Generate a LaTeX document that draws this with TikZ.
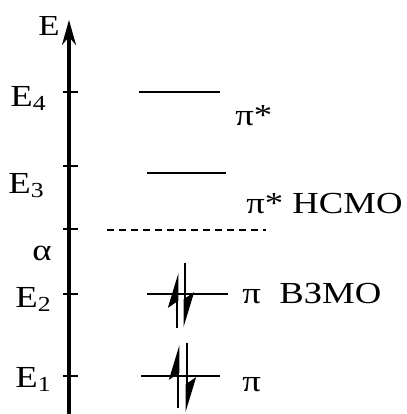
\documentclass[tikz,border=0pt]{standalone}
\usepackage{fontspec}
\setmainfont[FakeStretch=1.2]{Liberation Serif}
\usetikzlibrary{arrows.meta}

\begin{document}
\begin{tikzpicture}[x=0.5pt, y=-0.5pt,
  level/.style={line width=1pt},
  tickmark/.style={line width=0.6pt},
  axis/.style={line width=1.8pt, -{Stealth[length=12.5pt, width=7pt]}},
  electron/.style={line width=1.4pt, -{Stealth[left, length=15pt, width=9pt, inset=3pt]}},
  every node/.style={font=\fontsize{15.3}{18}\selectfont, inner sep=0pt, anchor=base west}]
\useasboundingbox (0,0) rectangle (407,414);

% energy axis
\coordinate (bottom) at (69,414);
\coordinate (top) at (69,20);
\draw[axis] (bottom) -- (top);
\node[font=\fontsize{14.5}{16}\selectfont] (elab) at (38,35) {E};

% ticks
\foreach \y/\n in {92/4, 166/3, 229/a, 294/2, 376/1}
  \draw[tickmark] (63,\y) -- (78,\y);

\node (e4) at (10,106) {E\textsubscript{4}};
\node (e3) at (8,193) {E\textsubscript{3}};
\node (alpha) at (32,260) {α};
\node (e2) at (15,307) {E\textsubscript{2}};
\node (e1) at (15,387) {E\textsubscript{1}};

% levels
\coordinate (l4a) at (139,92);  \coordinate (l4b) at (220,92);
\coordinate (l3a) at (147,173); \coordinate (l3b) at (226,173);
\coordinate (l2a) at (147,294); \coordinate (l2b) at (228,294);
\coordinate (l1a) at (141,376); \coordinate (l1b) at (220,376);
\coordinate (da) at (107,230);  \coordinate (db) at (266,230);
\draw[level] (l4a) -- (l4b);
\draw[level] (l3a) -- (l3b);
\draw[level] (l2a) -- (l2b);
\draw[level] (l1a) -- (l1b);
\draw[level, dash pattern=on 3.5pt off 2.5pt] (da) -- (db);

\node (pi4) at (235,125) {π*};
\node (pi3) at (246,213) {π* НСМО};
\node (pi2) at (242,303) {π\hspace{0.6em}ВЗМО};
\node (pi1) at (242,391) {π};

% electrons
\coordinate (u2a) at (177,328); \coordinate (u2b) at (177,273);
\coordinate (d2a) at (185,263); \coordinate (d2b) at (185,327);
\coordinate (u1a) at (178,408); \coordinate (u1b) at (178,345);
\coordinate (d1a) at (187,343); \coordinate (d1b) at (187,412);
\draw[electron] (u2a) -- (u2b);
\draw[electron] (d2a) -- (d2b);
\draw[electron] (u1a) -- (u1b);
\draw[electron] (d1a) -- (d1b);
\end{tikzpicture}
\end{document}
